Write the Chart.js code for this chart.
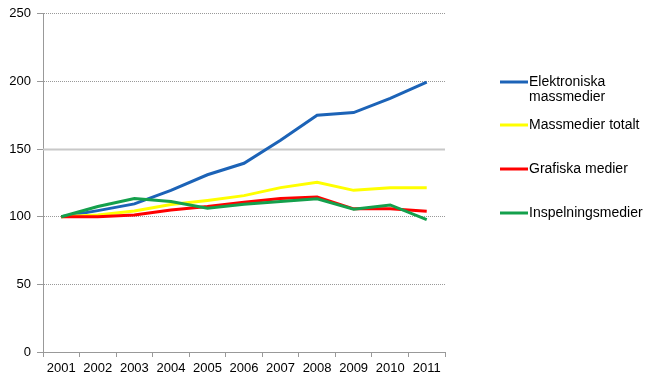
<!DOCTYPE html>
<html>
<head>
<meta charset="utf-8">
<script src="https://cdn.jsdelivr.net/npm/chart.js@4"></script>
<style>
  html, body { margin: 0; padding: 0; background: #fff; }
  #wrap { width: 660px; height: 385px; position: relative; }
</style>
</head>
<body>
<div id="wrap"><canvas id="chart"></canvas></div>
<script>
  // kategorie (lata)
  const YEARS = ["2001", "2002", "2003", "2004", "2005", "2006", "2007", "2008", "2009", "2010", "2011"];

  // serie – indeks 2001 = 100
  const ELEKTRONISKA = [100, 104.5, 109.5, 119.5, 131, 139.5, 156.5, 175, 177, 187.5, 199.5];
  const MASSMEDIER_TOTALT = [100, 101.3, 104.3, 109, 112, 115.6, 121.5, 125.5, 119.5, 121.5, 121.5];
  const GRAFISKA = [100, 100, 101.3, 105, 107.5, 110.7, 113.4, 114.6, 105.8, 105.8, 104];
  const INSPELNINGS = [100, 107.5, 113.5, 111.2, 106.3, 109.2, 111.2, 113.2, 105.5, 108.7, 97.8];

  const SERIES_LABELS = [
    ["Elektroniska", "massmedier"],
    ["Massmedier totalt"],
    ["Grafiska medier"],
    ["Inspelningsmedier"],
  ];
  const SERIES_COLORS = ["#1c63b7", "#ffff00", "#ff0000", "#14a04c"];

  // legenda po prawej stronie – rysowana ręcznie
  const legendPlugin = {
    id: "sideLegend",
    afterDraw(chart) {
      const ctx = chart.ctx;
      const rows = [82, 125, 169, 213];
      ctx.save();
      ctx.font = "14px 'Liberation Sans', Arial, sans-serif";
      ctx.fillStyle = "#000";
      ctx.textBaseline = "middle";
      chart.data.datasets.forEach((ds, i) => {
        const y = rows[i];
        ctx.strokeStyle = ds.borderColor;
        ctx.lineWidth = 3;
        ctx.beginPath();
        ctx.moveTo(500, y);
        ctx.lineTo(528, y);
        ctx.stroke();
        ds.label.forEach((line, j) => {
          ctx.fillText(line, 529, y + j * 15);
        });
      });
      ctx.restore();
    },
  };

  // linia 150 – ciągła, jak w oryginale
  const solidLinePlugin = {
    id: "solid150",
    beforeDatasetsDraw(chart) {
      const { ctx, chartArea, scales } = chart;
      const y = Math.round(scales.y.getPixelForValue(150)) + 0.5;
      ctx.save();
      ctx.strokeStyle = "#c8c8c8";
      ctx.lineWidth = 2;
      ctx.beginPath();
      ctx.moveTo(chartArea.left, y);
      ctx.lineTo(chartArea.right, y);
      ctx.stroke();
      ctx.restore();
    },
  };

  const allData = [ELEKTRONISKA, MASSMEDIER_TOTALT, GRAFISKA, INSPELNINGS];

  new Chart(document.getElementById("chart"), {
    type: "line",
    data: {
      labels: YEARS,
      datasets: allData.map((values, i) => ({
        label: SERIES_LABELS[i],
        data: values,
        borderColor: SERIES_COLORS[i],
        backgroundColor: SERIES_COLORS[i],
        borderWidth: 3,
        pointRadius: 0,
        tension: 0,
        order: 4 - i,
      })),
    },
    options: {
      responsive: true,
      maintainAspectRatio: false,
      animation: false,
      layout: { padding: { top: 9, right: 215, bottom: 0, left: 0 } },
      plugins: {
        legend: { display: false },
        tooltip: { enabled: false },
      },
      scales: {
        x: {
          offset: true,
          afterFit: (scale) => { scale.height = 33; },
          grid: {
            offset: true,
            drawOnChartArea: false,
            color: "#999",
            tickLength: 5,
          },
          border: { color: "#999", dash: [1, 1] },
          ticks: {
            color: "#000",
            maxRotation: 0,
            autoSkip: false,
            padding: 4,
            font: { family: "'Liberation Sans', Arial, sans-serif", size: 13 },
          },
        },
        y: {
          min: 0,
          max: 250,
          afterFit: (scale) => { scale.width = 43; },
          ticks: {
            stepSize: 50,
            color: "#000",
            padding: 6,
            font: { family: "'Liberation Sans', Arial, sans-serif", size: 13 },
          },
          grid: {
            color: (c) => (c.tick && c.tick.value === 150 ? "rgba(0,0,0,0)" : "#999"),
            tickLength: 6,
            tickColor: "#999",
          },
          border: { color: "#999", dash: [1, 1] },
        },
      },
    },
    plugins: [solidLinePlugin, legendPlugin],
  });
</script>
</body>
</html>
